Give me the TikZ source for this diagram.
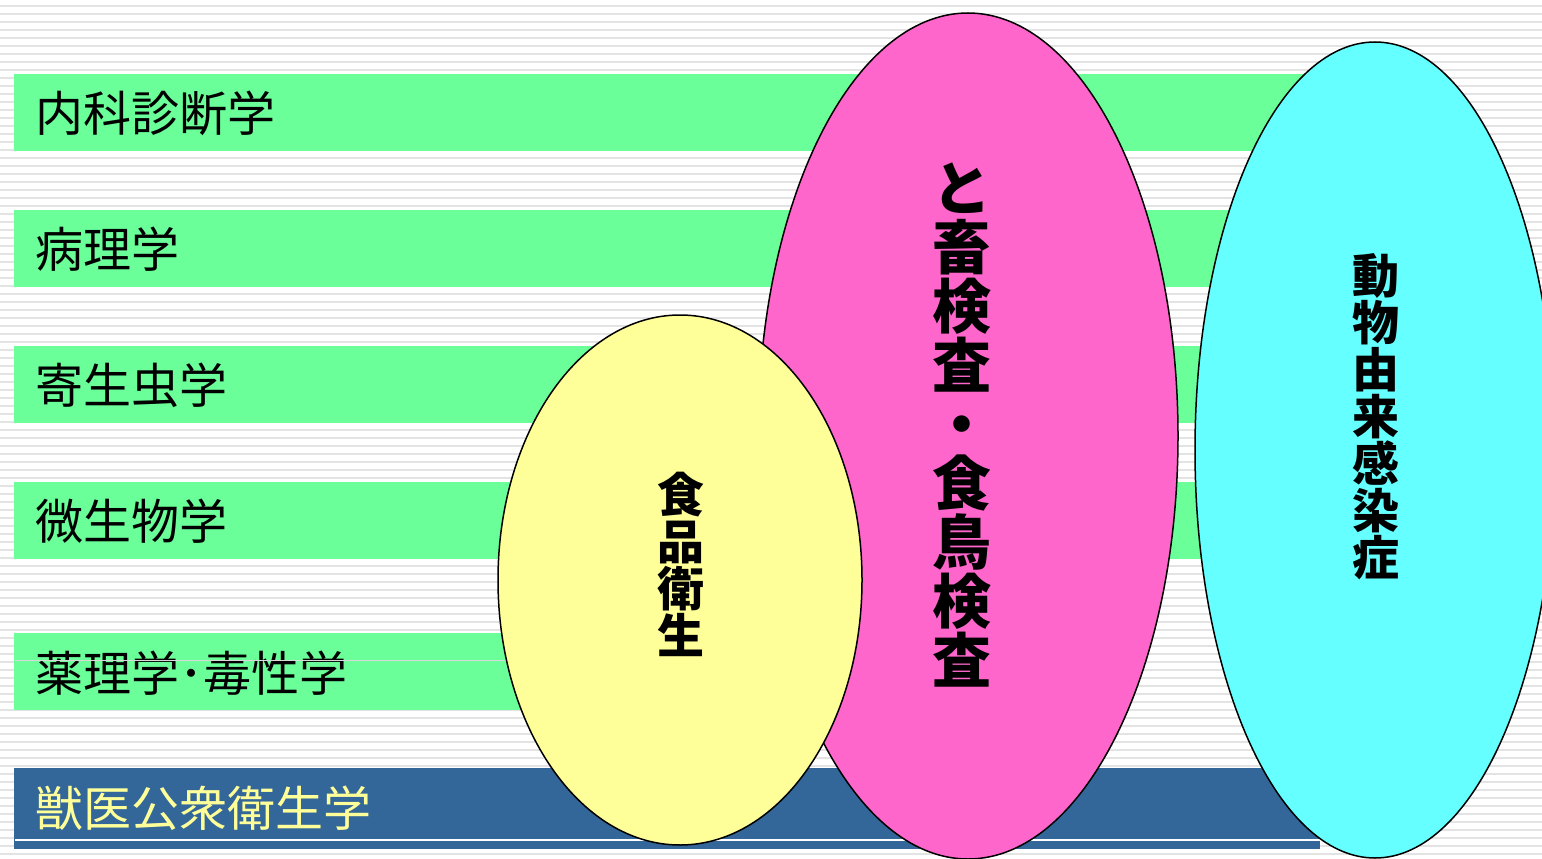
\documentclass[tikz,border=0pt]{standalone}
\usepackage{fontspec}
\setmainfont{Noto Sans CJK JP}
\usetikzlibrary{shapes.geometric}
\definecolor{barcol}{HTML}{6AFF99}
\definecolor{koueicol}{HTML}{336699}
\definecolor{koueitext}{HTML}{FFFF99}
\definecolor{pinkcol}{HTML}{FF66CC}
\definecolor{yellowcol}{HTML}{FFFF99}
\definecolor{cyancol}{HTML}{66FFFF}

\begin{document}
\begin{tikzpicture}[x=1pt,y=-1pt,
    bar/.style={fill=barcol},
    barlabel/.style={anchor=west,inner sep=0pt,font=\fontsize{48}{48}\selectfont},
    blob/.style={ellipse,draw,line width=1.5pt,inner sep=0pt},
    vlabel/.style={align=center,inner sep=0pt,font=\bfseries\fontsize{#1}{#1}\selectfont}]
    \useasboundingbox(0,0)rectangle(1542,859);
    \fill[white](0,0)rectangle(1542,859);
    \foreach \y in {6,14,...,858}
        \draw[gray!22,line width=2pt](0,\y)--(1542,\y);

    \fill[bar](14,74)rectangle(1320,151);
    \fill[bar](14,210)rectangle(1320,287);
    \fill[bar](14,346)rectangle(1320,423);
    \fill[bar](14,482)rectangle(1320,559);
    \fill[bar](14,633)rectangle(1000,710);
    \fill[koueicol](14,768)rectangle(1320,849);
    \draw[white,line width=1.5pt](15,840)--(1320,840);

    \node[barlabel](naika)at(35,113){内科診断学};
    \node[barlabel](byouri)at(35,249){病理学};
    \node[barlabel](kiseichu)at(35,385){寄生虫学};
    \node[barlabel](biseibutsu)at(35,521){微生物学};
    \node[barlabel](yakuri)at(35,673){薬理学･毒性学};
    \node[barlabel,text=koueitext](kouei)at(35,808){獣医公衆衛生学};
    \draw[white!85!black,line width=0.8pt](15,660)--(600,660);

    \node[blob,fill=pinkcol,minimum width=420,minimum height=846](tochiku)at(968,436){};
    \node[blob,fill=yellowcol,minimum width=364,minimum height=530](shokuhin)at(680,580){};
    \node[blob,fill=cyancol,minimum width=360,minimum height=816](zoonosis)at(1375,450){};

    \node[vlabel=59](tochikulabel)at(962,425){と\\畜\\検\\査\\・\\食\\鳥\\検\\査};
    \node[vlabel=47](shokuhinlabel)at(681,564){食\\品\\衛\\生};
    \node[vlabel=47](zoonosislabel)at(1376,417){動\\物\\由\\来\\感\\染\\症};
\end{tikzpicture}
\end{document}
